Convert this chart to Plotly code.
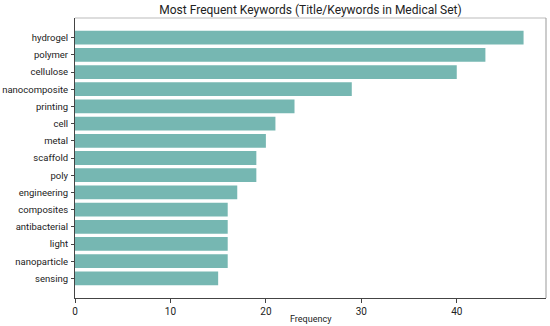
import plotly.graph_objects as go

keywords = ["hydrogel", "polymer", "cellulose", "nanocomposite", "printing", "cell", "metal",
            "scaffold", "poly", "engineering", "composites", "antibacterial", "light",
            "nanoparticle", "sensing"]
frequency = [47, 43, 40, 29, 23, 21, 20, 19, 19, 17, 16, 16, 16, 16, 15]
x_ticks = [0, 10, 20, 30, 40]

fig = go.Figure(go.Bar(
    x=frequency, y=keywords, orientation="h", width=0.8,
    marker=dict(color="#76b7b2", line=dict(width=0)),
))

n = len(keywords)
fig.update_layout(
    width=550, height=326,
    margin=dict(l=75, r=4, t=18, b=28, autoexpand=False),
    paper_bgcolor="white", plot_bgcolor="white",
    font=dict(family="Roboto, Open Sans, sans-serif", size=10, color="#222"),
    title=dict(text="Most Frequent Keywords (Title/Keywords in Medical Set)",
               x=0.5, xanchor="center", xref="paper", y=0.97, yanchor="middle",
               font=dict(size=12, color="#222")),
    showlegend=False,
    bargap=0.2,
)
fig.update_xaxes(
    range=[0, max(frequency) * 1.05], tickvals=x_ticks, showgrid=False, zeroline=False,
    showline=True, linecolor="#444", linewidth=1, ticks="outside", ticklen=4,
    tickcolor="#444", tickfont=dict(size=10), automargin=False,
)
fig.update_yaxes(
    range=[n - 1 + 1.14, -1.14], showgrid=False, zeroline=False,
    showline=True, linecolor="#444", linewidth=1, ticks="outside", ticklen=3,
    tickcolor="#444", tickfont=dict(size=9.5), automargin=False,
    ticklabelstandoff=1,
)
fig.add_annotation(text="Frequency", xref="paper", yref="paper", x=0.5, y=0,
                   yshift=-21, xanchor="center", yanchor="middle", showarrow=False,
                   font=dict(size=9, color="#222"))
# light top/right frame
fig.add_shape(type="line", xref="paper", yref="paper", x0=0, x1=1, y0=1, y1=1,
              line=dict(color="#bbb", width=1))
fig.add_shape(type="line", xref="paper", yref="paper", x0=1, x1=1, y0=0, y1=1,
              line=dict(color="#999", width=1))

fig.write_html("out.html", config={"displayModeBar": False})

with open("out.html", "r", encoding="utf-8") as f:
    html = f.read()
html = html.replace("<body>", '<body style="margin:0;padding:0;overflow:hidden">', 1)
with open("out.html", "w", encoding="utf-8") as f:
    f.write(html)
